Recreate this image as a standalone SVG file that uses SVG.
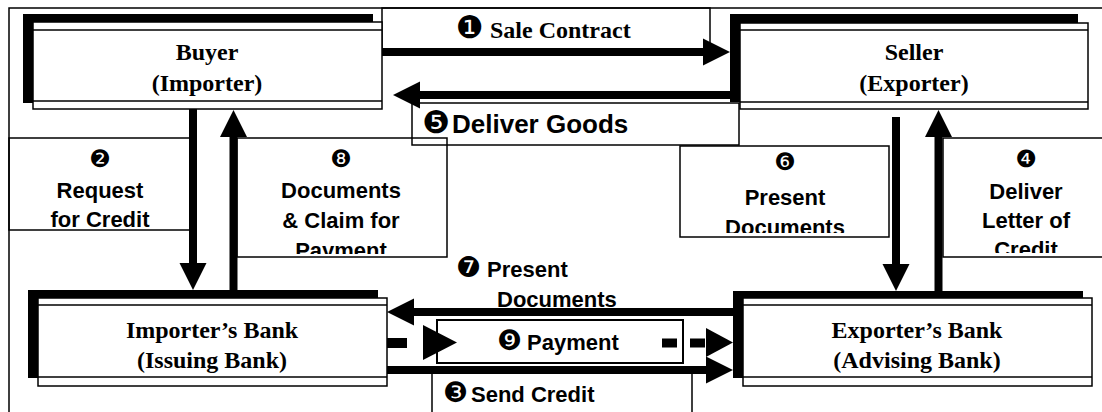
<svg xmlns="http://www.w3.org/2000/svg" width="1102" height="412" viewBox="0 0 1102 412">
<style>
.frame{fill:none;stroke:#000;stroke-width:1.5}
.lbox{fill:none;stroke:#000;stroke-width:1.5}
.shadow{fill:#000}
.nbox{fill:#fff;stroke:#000;stroke-width:1.5}
.inner{stroke:#000;stroke-width:1.5}
.ntext{font-family:"Liberation Serif","Times New Roman",serif;font-weight:bold;font-size:24px;text-anchor:middle;fill:#000}
.ltext{font-family:"Liberation Sans",Arial,"DejaVu Sans",sans-serif;font-weight:bold;font-size:22px;fill:#000}
.mid{text-anchor:middle}
.num{font-family:"DejaVu Sans",sans-serif;font-size:24px;font-weight:normal}
.conn{stroke:#000;stroke-width:8;fill:none}
.dash{stroke:#000;stroke-width:10;fill:none}
</style>
<defs>
<marker id="ah" markerUnits="userSpaceOnUse" markerWidth="27" markerHeight="27" refX="0" refY="13.5" orient="auto" overflow="visible">
<path d="M0,0 L27,13.5 L0,27 z" fill="#000"/>
</marker>
<clipPath id="c8"><rect x="237" y="138" width="210" height="116"/></clipPath>
<clipPath id="c6"><rect x="680" y="146" width="209" height="87"/></clipPath>
<clipPath id="c4"><rect x="943" y="138" width="159" height="115"/></clipPath>
</defs>
<rect width="1102" height="412" fill="#fff"/>
<path class="frame" d="M9,420 V8 H1110"/>

<g id="labels">
<g id="lbl1">
<rect class="lbox" x="382" y="8" width="328" height="44"/>
<text class="ntext" y="38" style="text-anchor:start"><tspan class="num" x="456" style="font-size:31px">❶</tspan><tspan x="490">Sale Contract</tspan></text>
</g>
<g id="lbl5">
<rect class="lbox" x="412" y="103" width="327" height="42"/>
<text class="ltext" y="133" style="font-size:26px"><tspan class="num" x="422" style="font-size:31px">❺</tspan><tspan x="452">Deliver Goods</tspan></text>
</g>
<g id="lbl2">
<rect class="lbox" x="9" y="138" width="181" height="92"/>
<text class="ltext mid" x="100" y="167"><tspan class="num">❷</tspan></text>
<text class="ltext mid" x="100" y="198">Request</text>
<text class="ltext mid" x="100" y="227">for Credit</text>
</g>
<g id="lbl8">
<rect class="lbox" x="237" y="138" width="210" height="119"/>
<g clip-path="url(#c8)">
<text class="ltext mid" x="341" y="167"><tspan class="num">❽</tspan></text>
<text class="ltext mid" x="341" y="198">Documents</text>
<text class="ltext mid" x="341" y="228">&amp; Claim for</text>
<text class="ltext mid" x="341" y="258">Payment</text>
</g>
</g>
<g id="lbl6">
<rect class="lbox" x="680" y="146" width="209" height="91"/>
<g clip-path="url(#c6)">
<text class="ltext mid" x="785" y="170"><tspan class="num">❻</tspan></text>
<text class="ltext mid" x="785" y="205">Present</text>
<text class="ltext mid" x="785" y="235">Documents</text>
</g>
</g>
<g id="lbl4">
<path class="lbox" d="M1110,138 H943 V257 H1110"/>
<g clip-path="url(#c4)">
<text class="ltext mid" x="1026" y="167"><tspan class="num">❹</tspan></text>
<text class="ltext mid" x="1026" y="199">Deliver</text>
<text class="ltext mid" x="1026" y="228">Letter of</text>
<text class="ltext mid" x="1026" y="257">Credit</text>
</g>
</g>
<g id="lbl7">
<text class="ltext" y="277"><tspan class="num" x="456" style="font-size:28px">❼</tspan><tspan x="487">Present</tspan></text>
<text class="ltext" x="497" y="307">Documents</text>
</g>
<g id="lbl9">
<rect class="lbox" x="437" y="320" width="246" height="43" style="stroke-width:2"/>
<text class="ltext" y="350"><tspan class="num" x="497" style="font-size:28px">❾</tspan><tspan x="527">Payment</tspan></text>
</g>
<g id="lbl3">
<path class="lbox" d="M432,420 V370 H692 V420"/>
<text class="ltext" y="402"><tspan class="num" x="443" style="font-size:28px">❸</tspan><tspan x="471">Send Credit</tspan></text>
</g>
</g>

<g id="connectors">
<path class="conn" d="M382,52 H703" marker-end="url(#ah)"/>
<path class="conn" d="M740,95 H420" marker-end="url(#ah)"/>
<path class="conn" d="M193,109 V263" marker-end="url(#ah)"/>
<path class="conn" d="M233.5,290 V137" marker-end="url(#ah)"/>
<path class="conn" d="M896,117 V264" marker-end="url(#ah)"/>
<path class="conn" d="M938.5,291 V137" marker-end="url(#ah)"/>
<path class="conn" d="M733,312 H414" marker-end="url(#ah)"/>
<path class="conn" d="M387,370 H706" marker-end="url(#ah)"/>
<path class="dash" d="M387,343 H423" stroke-dasharray="20 16"/>
<polygon points="423,325 457,342.5 423,360" fill="#000"/>
<path class="dash" d="M662,343 H706" stroke-dasharray="15 13" style="stroke-width:9"/>
<polygon points="706,328 733,342.5 706,357" fill="#000"/>
</g>

<g id="buyer">
<rect class="shadow" x="23" y="14" width="350" height="89"/>
<rect class="nbox" x="33" y="22" width="349" height="87"/>
<line class="inner" x1="33" y1="30" x2="382" y2="30"/>
<line class="inner" x1="33" y1="101" x2="382" y2="101"/>
<text class="ntext" x="207" y="60">Buyer</text>
<text class="ntext" x="207" y="91">(Importer)</text>
</g>
<g id="seller">
<rect class="shadow" x="730" y="14" width="348" height="88"/>
<rect class="nbox" x="740" y="23" width="348" height="86"/>
<line class="inner" x1="740" y1="30" x2="1088" y2="30"/>
<line class="inner" x1="740" y1="102" x2="1088" y2="102"/>
<text class="ntext" x="914" y="60">Seller</text>
<text class="ntext" x="914" y="91">(Exporter)</text>
</g>
<g id="importers-bank">
<rect class="shadow" x="28" y="290" width="350" height="88"/>
<rect class="nbox" x="38" y="298" width="349" height="88"/>
<line class="inner" x1="38" y1="305" x2="387" y2="305"/>
<line class="inner" x1="38" y1="377" x2="387" y2="377"/>
<text class="ntext" x="212" y="338">Importer’s Bank</text>
<text class="ntext" x="212" y="368">(Issuing Bank)</text>
</g>
<g id="exporters-bank">
<rect class="shadow" x="733" y="291" width="350" height="87"/>
<rect class="nbox" x="743" y="298" width="349" height="88"/>
<line class="inner" x1="743" y1="305" x2="1092" y2="305"/>
<line class="inner" x1="743" y1="377" x2="1092" y2="377"/>
<text class="ntext" x="917" y="338">Exporter’s Bank</text>
<text class="ntext" x="917" y="368">(Advising Bank)</text>
</g>
</svg>
